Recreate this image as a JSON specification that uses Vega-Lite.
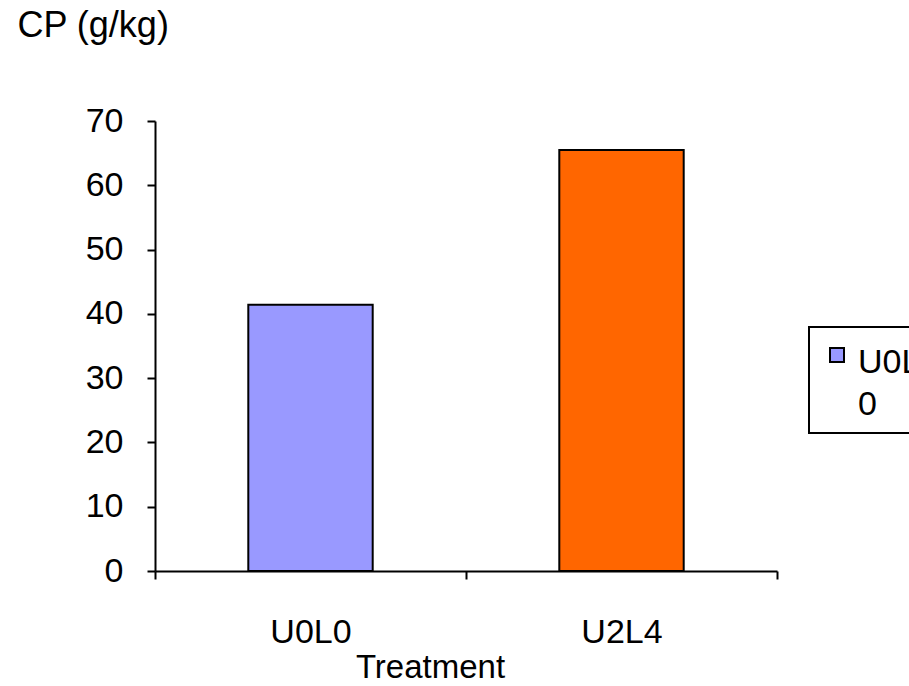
{
  "$schema": "https://vega.github.io/schema/vega-lite/v6.json",
  "autosize": {"type": "none"},
  "width": 622,
  "height": 450,
  "padding": {"left": 155, "top": 121, "right": 132, "bottom": 115},
  "background": "white",
  "data": {"values": [
    {"Treatment": "U0L0", "CP": 41.4},
    {"Treatment": "U2L4", "CP": 65.5}
  ]},
  "config": {
    "font": "Liberation Sans",
    "view": {"stroke": null},
    "axis": {"grid": false, "domainColor": "black", "domainWidth": 2, "tickColor": "black", "tickWidth": 2, "tickSize": 8, "labelFont": "Liberation Sans", "labelFontSize": 34, "labelColor": "black", "titleFont": "Liberation Sans", "titleFontSize": 34, "titleFontWeight": "normal", "titleColor": "black"}
  },
  "mark": {"type": "bar", "stroke": "black", "strokeWidth": 2, "width": {"band": 0.4}},
  "encoding": {
    "x": {
      "field": "Treatment", "type": "nominal",
      "scale": {"paddingInner": 0, "paddingOuter": 0},
      "axis": {"labelAngle": 0, "tickBand": "extent", "labelBaseline": "alphabetic", "labelPadding": 63, "title": "Treatment", "titleFontSize": 33, "titleBaseline": "alphabetic", "titleY": 106, "titleX": 275, "titlePadding": 0}
    },
    "y": {
      "field": "CP", "type": "quantitative",
      "scale": {"domain": [0, 70], "nice": false},
      "axis": {"values": [0, 10, 20, 30, 40, 50, 60, 70], "labelPadding": 24, "title": "CP (g/kg)", "titleFontSize": 36, "titleAngle": 0, "titleAlign": "left", "titleBaseline": "alphabetic", "titleX": -138, "titleY": -85}
    },
    "fill": {
      "field": "Treatment", "type": "nominal",
      "scale": {"domain": ["U0L0", "U2L4"], "range": ["#9999FF", "#FF6600"]},
      "legend": {
        "values": ["U0L0"],
        "title": null,
        "orient": "none",
        "legendX": 654,
        "legendY": 206,
        "padding": 11,
        "strokeColor": "black",
        "symbolType": "square",
        "symbolSize": 196,
        "symbolStrokeColor": "black",
        "symbolStrokeWidth": 2,
        "labelFont": "Liberation Sans",
        "labelFontSize": 34,
        "labelColor": "black",
        "labelOffset": 4,
        "labelLimit": 400,
        "labelExpr": "['U0L', '0\u00a0\u00a0\u00a0\u00a0\u00a0\u00a0\u00a0\u00a0\u00a0']",
        "encode": {
          "legend": {"update": {"strokeWidth": {"value": 2}}},
          "labels": {"update": {"lineHeight": {"value": 42}, "dy": {"value": 8}}}
        }
      }
    }
  }
}
